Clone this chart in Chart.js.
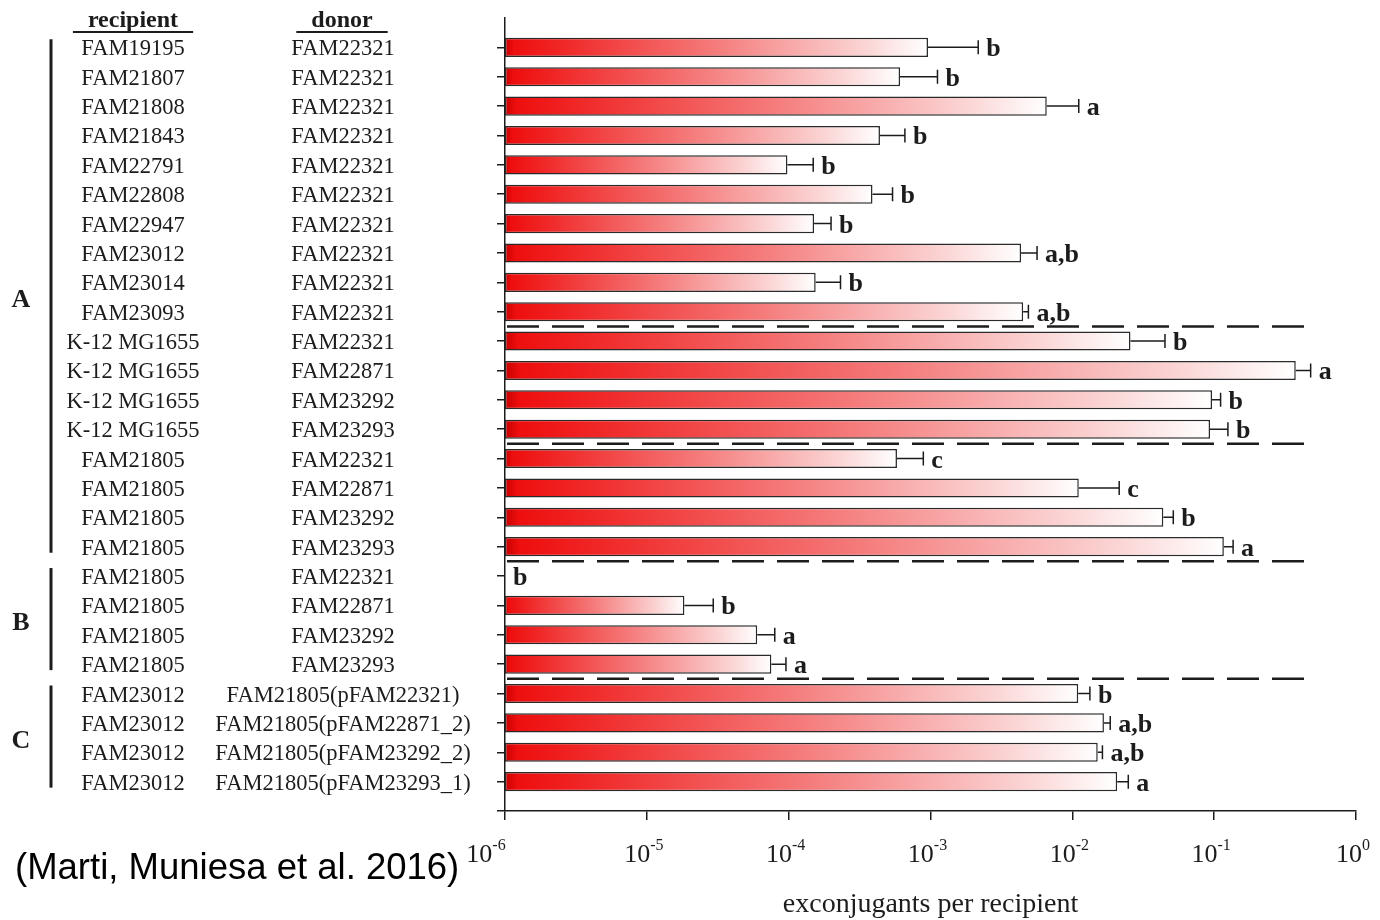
<!DOCTYPE html>
<html><head><meta charset="utf-8">
<script src="https://cdn.jsdelivr.net/npm/chart.js@4.4.0/dist/chart.umd.min.js"></script>
<style>html,body{margin:0;padding:0;background:#fff}#wrap{width:1380px;height:920px;position:relative}</style>
</head><body><div id="wrap"><canvas id="c"></canvas></div>
<script>
const recipients = ['FAM19195','FAM21807','FAM21808','FAM21843','FAM22791','FAM22808','FAM22947','FAM23012','FAM23014','FAM23093',
  'K-12 MG1655','K-12 MG1655','K-12 MG1655','K-12 MG1655',
  'FAM21805','FAM21805','FAM21805','FAM21805',
  'FAM21805','FAM21805','FAM21805','FAM21805',
  'FAM23012','FAM23012','FAM23012','FAM23012'];
const donors = ['FAM22321','FAM22321','FAM22321','FAM22321','FAM22321','FAM22321','FAM22321','FAM22321','FAM22321','FAM22321',
  'FAM22321','FAM22871','FAM23292','FAM23293',
  'FAM22321','FAM22871','FAM23292','FAM23293',
  'FAM22321','FAM22871','FAM23292','FAM23293',
  'FAM21805(pFAM22321)','FAM21805(pFAM22871_2)','FAM21805(pFAM23292_2)','FAM21805(pFAM23293_1)'];
const means = [9.6e-4, 6.1e-4, 6.6e-3, 4.4e-4, 9.8e-5, 3.9e-4, 1.51e-4, 4.35e-3, 1.55e-4, 4.5e-3,
  2.57e-2, 0.376, 9.66e-2, 9.35e-2,
  5.8e-4, 1.11e-2, 4.38e-2, 0.117,
  null, 1.84e-5, 6.0e-5, 7.55e-5,
  1.10e-2, 1.67e-2, 1.51e-2, 2.07e-2];
const errUpper = [2.17e-3, 1.12e-3, 1.11e-2, 6.6e-4, 1.49e-4, 5.4e-4, 1.99e-4, 5.64e-3, 2.32e-4, 4.9e-3,
  4.5e-2, 0.479, 0.111, 0.125,
  8.9e-4, 2.14e-2, 5.15e-2, 0.136,
  null, 2.94e-5, 7.98e-5, 9.57e-5,
  1.33e-2, 1.85e-2, 1.63e-2, 2.48e-2];
const letters = ['b','b','a','b','b','b','b','a,b','b','a,b',
  'b','a','b','b',
  'c','c','b','a',
  'b','b','a','a',
  'b','a,b','a,b','a'];
const groupNames = ['A','B','C'];
const groupFirst = [0, 18, 22];
const groupLast = [17, 21, 25];
const separators = [9.5, 13.5, 17.5, 21.5];
const separatorEnd = 0.5;
const tickExponents = [-6,-5,-4,-3,-2,-1,0];
const headers = ['recipient','donor'];
const axisTitle = 'exconjugants per recipient';
const citation = '(Marti, Muniesa et al. 2016)';

const INK = '#1c1c1c';
const SERIF = '"Liberation Serif","Times New Roman",serif';

function barGradient(ctx) {
  const chart = ctx.chart;
  const xs = chart.scales && chart.scales.x;
  if (!xs || ctx.type !== 'data' || !ctx.raw) return '#ee1111';
  const v = ctx.raw.x;
  if (v == null) return 'rgba(0,0,0,0)';
  const x0 = xs.getPixelForValue(xs.min), x1 = xs.getPixelForValue(v);
  if (!isFinite(x0) || !isFinite(x1) || x1 <= x0) return '#ee1111';
  const g = chart.ctx.createLinearGradient(x0, 0, x1, 0);
  g.addColorStop(0, '#c80000');
  g.addColorStop(0.02, '#ee0e0e');
  g.addColorStop(0.12, '#f02424');
  g.addColorStop(0.5, '#f57c7c');
  g.addColorStop(0.85, '#fbd4d4');
  g.addColorStop(1, '#ffffff');
  return g;
}

const overlay = {
  id: 'overlay',
  afterDatasetsDraw(chart) {
    const ctx = chart.ctx, xs = chart.scales.x, ys = chart.scales.y;
    ctx.save();
    ctx.strokeStyle = INK; ctx.lineWidth = 2.5; ctx.setLineDash([32, 13]);
    separators.forEach(s => {
      const y = ys.getPixelForValue(s);
      ctx.beginPath(); ctx.moveTo(xs.getPixelForValue(xs.min) + 2, y); ctx.lineTo(xs.getPixelForValue(separatorEnd), y); ctx.stroke();
    });
    ctx.setLineDash([]);
    ctx.lineWidth = 1.5; ctx.strokeStyle = INK; ctx.fillStyle = INK;
    ctx.font = 'bold 26px ' + SERIF; ctx.textAlign = 'left'; ctx.textBaseline = 'alphabetic';
    means.forEach((m, i) => {
      const yc = ys.getPixelForValue(i);
      let xe = xs.getPixelForValue(xs.min);
      if (m != null && errUpper[i] != null) {
        const x0 = xs.getPixelForValue(m), x1 = xs.getPixelForValue(errUpper[i]);
        ctx.beginPath(); ctx.moveTo(x0, yc); ctx.lineTo(x1, yc);
        ctx.moveTo(x1, yc - 7); ctx.lineTo(x1, yc + 7); ctx.stroke();
        xe = x1;
      }
      ctx.fillText(letters[i], xe + 8, yc + 9);
    });
    ctx.restore();
  },
  afterDraw(chart) {
    const ctx = chart.ctx, xs = chart.scales.x, ys = chart.scales.y;
    ctx.save();
    ctx.fillStyle = INK; ctx.strokeStyle = INK;
    ctx.font = '22.5px ' + SERIF; ctx.textAlign = 'center'; ctx.textBaseline = 'alphabetic';
    recipients.forEach((r, i) => {
      const yc = ys.getPixelForValue(i);
      ctx.fillText(r, 133, yc + 8);
      ctx.fillText(donors[i], 343, yc + 8);
    });
    ctx.font = 'bold 24px ' + SERIF;
    const hx = [133, 342];
    headers.forEach((h, k) => {
      ctx.fillText(h, hx[k], 27);
      const w = ctx.measureText(h).width + 30;
      ctx.lineWidth = 2; ctx.beginPath(); ctx.moveTo(hx[k] - w / 2, 32); ctx.lineTo(hx[k] + w / 2, 32); ctx.stroke();
    });
    ctx.font = 'bold 26px ' + SERIF;
    groupNames.forEach((g, k) => {
      const y0 = ys.getPixelForValue(groupFirst[k]), y1 = ys.getPixelForValue(groupLast[k]);
      ctx.lineWidth = 3; ctx.beginPath(); ctx.moveTo(51, y0 - 8); ctx.lineTo(51, y1 + 6); ctx.stroke();
      ctx.fillText(g, 21, (y0 + y1) / 2 + 10);
    });
    tickExponents.forEach((e, k) => {
      const x = xs.getPixelForValue(Math.pow(10, e)) + (k === 0 ? -19 : -3);
      ctx.font = '26px ' + SERIF;
      const w1 = ctx.measureText('10').width;
      ctx.font = '16px ' + SERIF;
      const sup = String(e);
      const w2 = ctx.measureText(sup).width;
      const left = x - (w1 + w2) / 2;
      ctx.textAlign = 'left';
      ctx.font = '26px ' + SERIF; ctx.fillText('10', left, 862);
      ctx.font = '16px ' + SERIF; ctx.fillText(sup, left + w1, 850);
    });
    ctx.textAlign = 'center';
    ctx.font = '28px ' + SERIF;
    ctx.fillText(axisTitle, (chart.chartArea.left + chart.chartArea.right) / 2, 912);
    ctx.textAlign = 'left';
    ctx.fillStyle = '#000';
    ctx.font = '36.5px "Liberation Sans", Arial, sans-serif';
    ctx.fillText(citation, 15, 879);
    ctx.restore();
  }
};

new Chart(document.getElementById('c'), {
  type: 'bar',
  data: {
    datasets: [{
      data: means.map((v, i) => ({ x: v, y: i })),
      backgroundColor: barGradient,
      borderColor: '#2a2a2a',
      borderWidth: 1.5,
      borderSkipped: false,
      barPercentage: 0.65,
      categoryPercentage: 1.0
    }]
  },
  options: {
    indexAxis: 'y',
    responsive: true,
    maintainAspectRatio: false,
    animation: false,
    layout: { padding: { left: 497, right: 24, top: 18, bottom: 100 } },
    plugins: { legend: { display: false }, tooltip: { enabled: false } },
    scales: {
      x: {
        type: 'logarithmic', min: 1e-6, max: 1,
        afterBuildTicks: s => { s.ticks = tickExponents.map(e => ({ value: Math.pow(10, e), major: true })); },
        afterFit: s => { s.height = 9; },
        ticks: { display: false },
        grid: { drawOnChartArea: false, drawTicks: true, tickLength: 9, color: INK, lineWidth: 1.5, offset: false },
        border: { display: true, color: INK, width: 1.5 }
      },
      y: {
        type: 'linear', min: -1, max: recipients.length, reverse: true, offset: false,
        afterBuildTicks: s => { s.ticks = Array.from({ length: recipients.length + 1 }, (_, i) => ({ value: i })); },
        afterFit: s => { s.width = 8; },
        ticks: { display: false },
        grid: { drawOnChartArea: false, drawTicks: true, tickLength: 8, color: INK, lineWidth: 1.5, offset: false },
        border: { display: true, color: INK, width: 1.5 }
      }
    }
  },
  plugins: [overlay]
});
</script>
</body></html>
